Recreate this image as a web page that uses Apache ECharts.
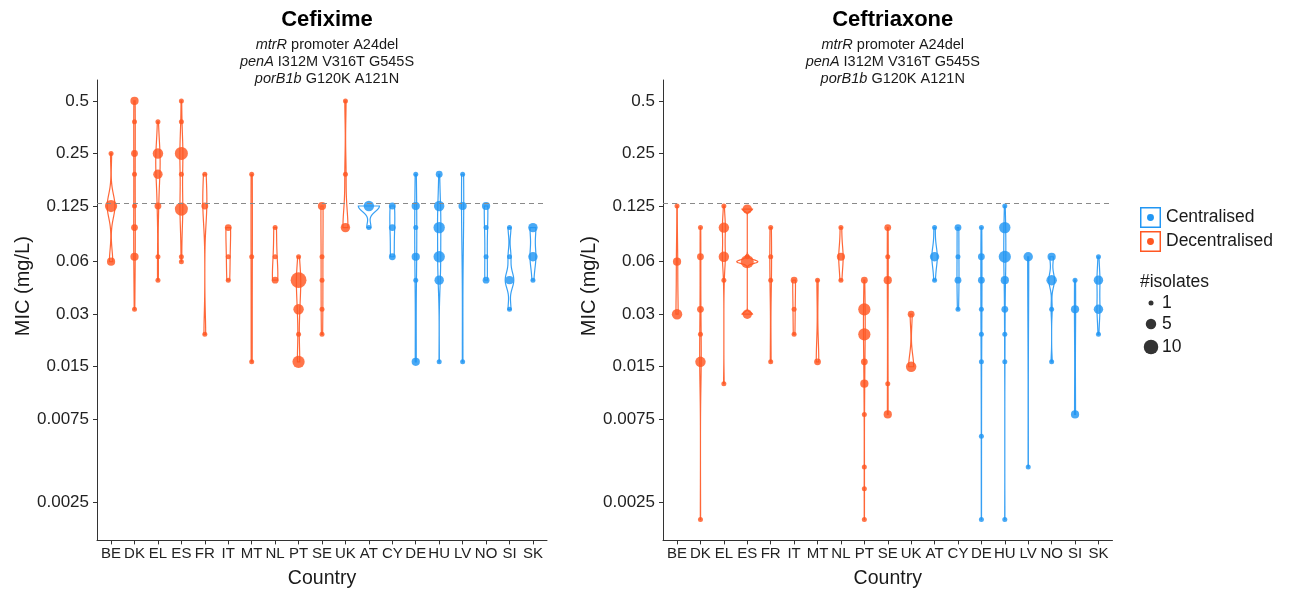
<!DOCTYPE html>
<html>
<head>
<meta charset="utf-8">
<title>Cefixime / Ceftriaxone MIC by country</title>
<script src="https://cdn.jsdelivr.net/npm/echarts@6/dist/echarts.min.js"></script>
<style>
  html, body { margin: 0; padding: 0; background: #fff; }
  #chart { width: 1295px; height: 595px; }
</style>
</head>
<body>
<div id="chart"></div>
<script>
const countries = ['BE', 'DK', 'EL', 'ES', 'FR', 'IT', 'MT', 'NL', 'PT', 'SE', 'UK', 'AT', 'CY', 'DE', 'HU', 'LV', 'NO', 'SI', 'SK'];
const centralised = ['AT', 'CY', 'DE', 'HU', 'LV', 'NO', 'SI', 'SK'];
const yTicks = [0.0025, 0.0075, 0.015, 0.03, 0.06, 0.125, 0.25, 0.5];
const yTickLabels = ['0.0025', '0.0075', '0.015', '0.03', '0.06', '0.125', '0.25', '0.5'];
const breakpoint = 0.125;
const sizeLegend = [1, 5, 10];

// [country, MIC (mg/L), number of isolates]
const cefixime = [
  ['BE', 0.25, 1], ['BE', 0.125, 7], ['BE', 0.06, 3],
  ['DK', 0.5, 3], ['DK', 0.38, 1], ['DK', 0.25, 2], ['DK', 0.19, 1], ['DK', 0.125, 1], ['DK', 0.094, 2], ['DK', 0.064, 3], ['DK', 0.032, 1],
  ['EL', 0.38, 1], ['EL', 0.25, 5], ['EL', 0.19, 4], ['EL', 0.125, 2], ['EL', 0.064, 1], ['EL', 0.047, 1],
  ['ES', 0.5, 1], ['ES', 0.38, 1], ['ES', 0.25, 8], ['ES', 0.19, 1], ['ES', 0.12, 8], ['ES', 0.064, 1], ['ES', 0.06, 1],
  ['FR', 0.19, 1], ['FR', 0.125, 2], ['FR', 0.023, 1],
  ['IT', 0.094, 2], ['IT', 0.064, 1], ['IT', 0.047, 1],
  ['MT', 0.19, 1], ['MT', 0.064, 1], ['MT', 0.016, 1],
  ['NL', 0.094, 1], ['NL', 0.064, 1], ['NL', 0.047, 2],
  ['PT', 0.064, 1], ['PT', 0.047, 12], ['PT', 0.032, 5], ['PT', 0.023, 1], ['PT', 0.016, 7],
  ['SE', 0.125, 3], ['SE', 0.064, 1], ['SE', 0.047, 1], ['SE', 0.032, 1], ['SE', 0.023, 1],
  ['UK', 0.5, 1], ['UK', 0.19, 1], ['UK', 0.094, 4],
  ['AT', 0.125, 5], ['AT', 0.094, 1],
  ['CY', 0.125, 2], ['CY', 0.094, 2], ['CY', 0.064, 2],
  ['DE', 0.19, 1], ['DE', 0.125, 3], ['DE', 0.094, 1], ['DE', 0.064, 3], ['DE', 0.047, 1], ['DE', 0.016, 3],
  ['HU', 0.19, 2], ['HU', 0.125, 5], ['HU', 0.094, 6], ['HU', 0.064, 6], ['HU', 0.047, 4], ['HU', 0.016, 1],
  ['LV', 0.19, 1], ['LV', 0.125, 3], ['LV', 0.016, 1],
  ['NO', 0.125, 3], ['NO', 0.094, 1], ['NO', 0.064, 1], ['NO', 0.047, 2],
  ['SI', 0.094, 1], ['SI', 0.064, 1], ['SI', 0.047, 3], ['SI', 0.032, 1],
  ['SK', 0.094, 4], ['SK', 0.064, 4], ['SK', 0.047, 1]
];

const ceftriaxone = [
  ['BE', 0.125, 1], ['BE', 0.06, 3], ['BE', 0.03, 5],
  ['DK', 0.094, 1], ['DK', 0.064, 2], ['DK', 0.032, 2], ['DK', 0.023, 1], ['DK', 0.016, 5], ['DK', 0.002, 1],
  ['EL', 0.125, 1], ['EL', 0.094, 5], ['EL', 0.064, 5], ['EL', 0.047, 1], ['EL', 0.012, 1],
  ['ES', 0.12, 4], ['ES', 0.064, 1], ['ES', 0.06, 8], ['ES', 0.03, 4],
  ['FR', 0.094, 1], ['FR', 0.064, 1], ['FR', 0.047, 1], ['FR', 0.016, 1],
  ['IT', 0.047, 2], ['IT', 0.032, 1], ['IT', 0.023, 1],
  ['MT', 0.047, 1], ['MT', 0.016, 2],
  ['NL', 0.094, 1], ['NL', 0.064, 3], ['NL', 0.047, 1],
  ['PT', 0.047, 2], ['PT', 0.032, 7], ['PT', 0.023, 7], ['PT', 0.016, 2], ['PT', 0.012, 3], ['PT', 0.008, 1], ['PT', 0.004, 1], ['PT', 0.003, 1], ['PT', 0.002, 1],
  ['SE', 0.094, 2], ['SE', 0.064, 1], ['SE', 0.047, 3], ['SE', 0.012, 1], ['SE', 0.008, 3],
  ['UK', 0.03, 2], ['UK', 0.015, 5],
  ['AT', 0.094, 1], ['AT', 0.064, 4], ['AT', 0.047, 1],
  ['CY', 0.094, 2], ['CY', 0.064, 1], ['CY', 0.047, 2], ['CY', 0.032, 1],
  ['DE', 0.094, 1], ['DE', 0.064, 2], ['DE', 0.047, 2], ['DE', 0.032, 1], ['DE', 0.023, 1], ['DE', 0.016, 1], ['DE', 0.006, 1], ['DE', 0.002, 1],
  ['HU', 0.125, 1], ['HU', 0.094, 6], ['HU', 0.064, 7], ['HU', 0.047, 3], ['HU', 0.032, 2], ['HU', 0.023, 1], ['HU', 0.016, 1], ['HU', 0.002, 1],
  ['LV', 0.064, 4], ['LV', 0.004, 1],
  ['NO', 0.064, 3], ['NO', 0.047, 5], ['NO', 0.032, 1], ['NO', 0.016, 1],
  ['SI', 0.047, 1], ['SI', 0.032, 3], ['SI', 0.008, 3],
  ['SK', 0.064, 1], ['SK', 0.047, 4], ['SK', 0.032, 4], ['SK', 0.023, 1]
];

const RED = '#FF5722';
const BLUE = '#2196F3';
const FONT = '"Liberation Sans", Arial, Helvetica, sans-serif';

function sizeOf(n) {
  return 4.4 * Math.sqrt(n) + 0.6;
}

function colorOf(country) {
  return centralised.indexOf(country) >= 0 ? BLUE : RED;
}

// bw.nrd0 like R
function bwNrd0(x) {
  const n = x.length;
  const mean = x.reduce((a, b) => a + b, 0) / n;
  const sd = Math.sqrt(x.reduce((a, b) => a + (b - mean) * (b - mean), 0) / (n - 1));
  const q = (p) => {
    const h = (n - 1) * p, lo = Math.floor(h);
    return lo + 1 < n ? x[lo] + (h - lo) * (x[lo + 1] - x[lo]) : x[lo];
  };
  let lo = Math.min(sd, (q(0.75) - q(0.25)) / 1.34);
  if (!lo) lo = sd || Math.abs(x[0]) || 1;
  return 0.9 * lo * Math.pow(n, -0.2);
}

// violin outlines (log2 scale, trimmed, scale = "area" within a panel)
function violinShapes(rows) {
  const groups = countries.map(() => []);
  rows.forEach(([c, mic, n]) => {
    for (let k = 0; k < n; k++) groups[countries.indexOf(c)].push(Math.log2(mic));
  });
  let maxD = 0;
  const shapes = groups.map((xs) => {
    if (xs.length < 2) return null;
    xs.sort((a, b) => a - b);
    const lo = xs[0], hi = xs[xs.length - 1];
    if (hi === lo) return null;
    const bw = bwNrd0(xs);
    const t = [], d = [];
    for (let j = 0; j < 512; j++) {
      const tj = lo + (hi - lo) * j / 511;
      let s = 0;
      xs.forEach((xi) => {
        const z = (tj - xi) / bw;
        s += Math.exp(-0.5 * z * z);
      });
      const dj = s / (xs.length * bw * Math.sqrt(2 * Math.PI));
      t.push(tj); d.push(dj);
      if (dj > maxD) maxD = dj;
    }
    return { t, d };
  });
  shapes.forEach((s) => { if (s) s.w = s.d.map((v) => v / maxD); });
  return shapes;
}

function violinRenderer(shapes) {
  return function (params, api) {
    const i = api.value(0);
    const v = shapes[i];
    if (!v) return null;
    const x0 = api.coord([i, 1])[0];
    const band = api.coord([i + 1, 1])[0] - x0;
    const left = [], right = [];
    for (let k = 0; k < v.t.length; k++) {
      const y = api.coord([i, Math.pow(2, v.t[k])])[1];
      const hw = v.w[k] * 0.45 * band;
      left.push([x0 - hw, y]);
      right.push([x0 + hw, y]);
    }
    return {
      type: 'polygon',
      shape: { points: left.concat(right.reverse()) },
      style: { fill: 'none', stroke: colorOf(countries[i]), lineWidth: 1.2, opacity: 0.9 }
    };
  };
}

// y limits like ggplot: 5% expansion of the log range
const allMic = cefixime.concat(ceftriaxone).map((r) => Math.log2(r[1]));
const yLo = Math.min.apply(null, allMic), yHi = Math.max.apply(null, allMic);
const yMin = Math.pow(2, yLo - 0.05 * (yHi - yLo));
const yMax = Math.pow(2, yHi + 0.05 * (yHi - yLo));

function tickLabel(v) {
  let best = 0;
  yTicks.forEach((t, k) => {
    if (Math.abs(Math.log(t / v)) < Math.abs(Math.log(yTicks[best] / v))) best = k;
  });
  return yTickLabels[best];
}

const panels = [
  { title: 'Cefixime', rows: cefixime, left: 97, right: 547 },
  { title: 'Ceftriaxone', rows: ceftriaxone, left: 663, right: 1112.5 }
];

const chart = echarts.init(document.getElementById('chart'), null, { renderer: 'canvas' });

const option = {
  animation: false,
  textStyle: { fontFamily: FONT, color: '#1a1a1a' },
  title: panels.map((p) => ({
    text: p.title,
    subtext: '{i|mtrR} promoter A24del\n{i|penA} I312M V316T G545S\n{i|porB1b} G120K A121N',
    left: (p.left + p.right) / 2,
    top: 2,
    textAlign: 'center',
    itemGap: 3,
    textStyle: { fontSize: 22, fontWeight: 'bold', color: '#000', fontFamily: FONT, lineHeight: 26 },
    subtextStyle: {
      fontSize: 14.5, color: '#1a1a1a', fontFamily: FONT, lineHeight: 17,
      rich: { i: { fontStyle: 'italic', fontSize: 14.5, fontFamily: FONT, color: '#1a1a1a' } }
    }
  })),
  legend: {
    orient: 'vertical',
    left: 1140,
    top: 207,
    padding: 0,
    itemWidth: 21,
    itemHeight: 21,
    itemGap: 3,
    icon: 'path://M0,0H20V20H0Z M1.4,1.4V18.6H18.6V1.4Z M6.7,10A3.3,3.3,0,1,0,13.3,10A3.3,3.3,0,1,0,6.7,10Z',
    itemStyle: { opacity: 1 },
    textStyle: { fontSize: 17.5, color: '#1a1a1a', fontFamily: FONT },
    data: ['Centralised', 'Decentralised']
  },
  grid: panels.map((p) => ({
    left: p.left, right: 1295 - p.right, top: 80, bottom: 54.6, outerBoundsMode: 'none'
  })),
  xAxis: panels.map((p, k) => ({
    type: 'value',
    gridIndex: k,
    min: -0.6,
    max: countries.length - 0.4,
    name: 'Country',
    nameLocation: 'middle',
    nameGap: 28,
    nameTextStyle: { fontSize: 19.5, color: '#1a1a1a' },
    splitLine: { show: false },
    axisLine: { onZero: false, lineStyle: { color: '#333', width: 1 } },
    axisTick: { customValues: countries.map((c, i) => i), length: 4, lineStyle: { color: '#333' } },
    axisLabel: {
      customValues: countries.map((c, i) => i),
      formatter: (v) => countries[Math.round(v)],
      fontSize: 15, color: '#222', margin: 6
    }
  })),
  yAxis: panels.map((p, k) => ({
    type: 'log',
    logBase: 2,
    gridIndex: k,
    min: yMin,
    max: yMax,
    name: 'MIC (mg/L)',
    nameLocation: 'middle',
    nameGap: 63,
    nameTextStyle: { fontSize: 20, color: '#1a1a1a', padding: [0, 0, 0, 48] },
    splitLine: { show: false },
    axisLine: { show: true, onZero: false, lineStyle: { color: '#333', width: 1 } },
    axisTick: { show: true, customValues: yTicks, length: 4, lineStyle: { color: '#333' } },
    axisLabel: { customValues: yTicks, formatter: tickLabel, fontSize: 17, color: '#222', margin: 8 }
  })),
  series: []
};

panels.forEach((p, k) => {
  const shapes = violinShapes(p.rows);
  option.series.push({
    type: 'custom',
    name: 'violin' + k,
    xAxisIndex: k,
    yAxisIndex: k,
    silent: true,
    z: 1,
    renderItem: violinRenderer(shapes),
    encode: { x: 0, y: 1 },
    data: countries.map((c, i) => [i, Math.min.apply(null, p.rows.filter((r) => r[0] === c).map((r) => r[1]))])
  });
  ['Decentralised', 'Centralised'].forEach((grp) => {
    const isC = grp === 'Centralised';
    const s = {
      type: 'scatter',
      name: grp,
      xAxisIndex: k,
      yAxisIndex: k,
      z: 3,
      symbolSize: (val) => sizeOf(val[2]),
      itemStyle: { color: isC ? BLUE : RED, opacity: 0.82 },
      data: p.rows
        .filter((r) => (centralised.indexOf(r[0]) >= 0) === isC)
        .map((r) => [countries.indexOf(r[0]), r[1], r[2]])
    };
    if (!isC) {
      s.markLine = {
        silent: true,
        symbol: 'none',
        label: { show: false },
        lineStyle: { type: [5, 4], color: '#8a8a8a', width: 1.2 },
        data: [{ yAxis: breakpoint }]
      };
    }
    option.series.push(s);
  });
});

// size legend (#isolates)
const graphics = [{
  type: 'text', left: 1140, top: 273,
  style: { text: '#isolates', font: '17.5px ' + FONT, fill: '#1a1a1a' }
}];
const sizeRowY = [303, 324, 347];
sizeLegend.forEach((n, k) => {
  graphics.push({
    type: 'circle',
    shape: { cx: 1151, cy: sizeRowY[k], r: sizeOf(n) / 2 },
    style: { fill: '#333' }
  });
  graphics.push({
    type: 'text', x: 1162, y: sizeRowY[k],
    style: { text: String(n), font: '17.5px ' + FONT, fill: '#1a1a1a', verticalAlign: 'middle' }
  });
});
option.graphic = graphics;

chart.setOption(option);
</script>
</body>
</html>
